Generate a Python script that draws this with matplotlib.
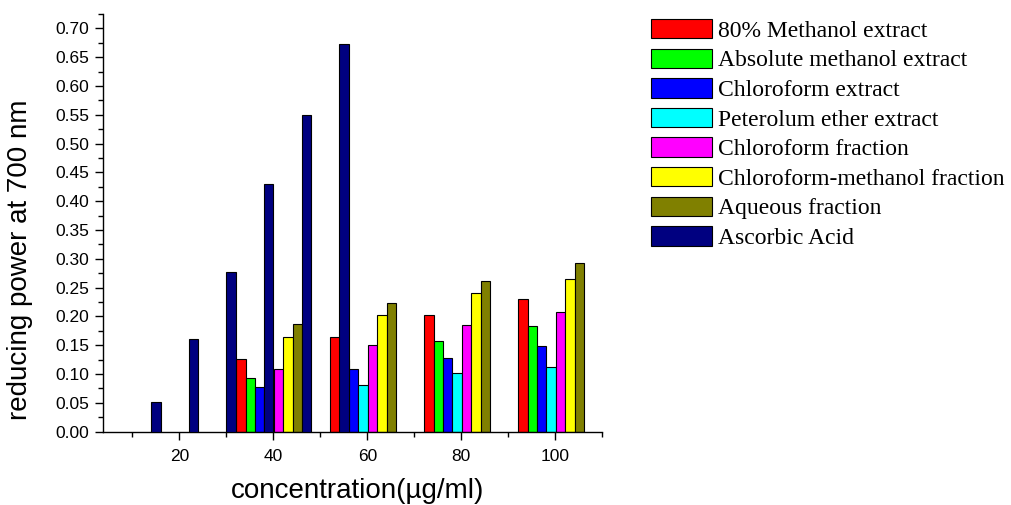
import matplotlib
matplotlib.use("Agg")
import matplotlib.pyplot as plt
import numpy as np
from matplotlib.ticker import MultipleLocator, FormatStrFormatter

# ---- data ----
group_conc = [40, 60, 80, 100]
series_names = ["80% Methanol extract", "Absolute methanol extract", "Chloroform extract",
                "Peterolum ether extract", "Chloroform fraction",
                "Chloroform-methanol fraction", "Aqueous fraction"]
methanol80 = [0.127, 0.164, 0.203, 0.230]
abs_methanol = [0.094, 0.125, 0.157, 0.183]
chloroform_ext = [0.078, 0.109, 0.128, 0.148]
pet_ether = [0.065, 0.081, 0.101, 0.112]
chloroform_frac = [0.108, 0.151, 0.185, 0.207]
chl_meth_frac = [0.164, 0.203, 0.241, 0.265]
aqueous = [0.187, 0.224, 0.261, 0.292]

ascorbic_name = "Ascorbic Acid"
ascorbic_conc = [15, 23, 31, 39, 47, 55]
ascorbic = [0.052, 0.161, 0.277, 0.430, 0.549, 0.672]

colors = ["#FF0000", "#00FF00", "#0000FF", "#00FFFF", "#FF00FF", "#FFFF00", "#808000"]
ascorbic_color = "#000080"

# ---- figure ----
W, H = 1011, 505
fig = plt.figure(figsize=(W / 100, H / 100), dpi=100)
ax_left, ax_right = 103.3 / W, 602.3 / W
ax_bottom = 1 - 431.7 / H
ax_top = 1 - 13.9 / H
ax = fig.add_axes([ax_left, ax_bottom, ax_right - ax_left, ax_top - ax_bottom])

all_series = [methanol80, abs_methanol, chloroform_ext, pet_ether,
              chloroform_frac, chl_meth_frac, aqueous]
w = 2.0
x = np.array(group_conc, dtype=float)
handles = []
for i, (vals, c, name) in enumerate(zip(all_series, colors, series_names)):
    b = ax.bar(x + (i - 3.5) * w + 0.1, vals, width=w, color=c, edgecolor="black",
               linewidth=0.8, label=name, zorder=2)
    handles.append(b)
b = ax.bar(ascorbic_conc, ascorbic, width=w, color=ascorbic_color, edgecolor="black",
           linewidth=0.8, label=ascorbic_name, zorder=3)
handles.append(b)

ax.set_xlim(3.8, 110)
ax.set_ylim(0, 0.725)
ax.xaxis.set_major_locator(MultipleLocator(20))
ax.xaxis.set_minor_locator(MultipleLocator(10))
ax.yaxis.set_major_locator(MultipleLocator(0.05))
ax.yaxis.set_minor_locator(MultipleLocator(0.025))
ax.yaxis.set_major_formatter(FormatStrFormatter("%.2f"))
ax.set_yticks(np.arange(0, 0.701, 0.05))

for s in ["top", "right"]:
    ax.spines[s].set_visible(False)
for s in ["left", "bottom"]:
    ax.spines[s].set_linewidth(1.0)

tick_font = "Liberation Sans"
ax.tick_params(axis="both", which="major", direction="out", length=6, width=1.0,
               labelsize=12.5, pad=4)
ax.tick_params(axis="x", which="major", pad=6.5)
ax.tick_params(axis="both", which="minor", direction="out", length=3.5, width=1.0)
for lbl in ax.get_xticklabels() + ax.get_yticklabels():
    lbl.set_fontfamily(tick_font)

ax.set_xlabel("concentration(\u00b5g/ml)", fontsize=20, fontfamily=tick_font)
ax.set_ylabel("reducing power at 700 nm", fontsize=20, fontfamily=tick_font)
ax.xaxis.set_label_coords(0.51, -0.112)
ax.yaxis.set_label_coords(-0.141, 0.411)

leg = fig.legend(handles=handles, loc="upper left",
                 bbox_to_anchor=(651 / W, 1 - 19 / H), bbox_transform=fig.transFigure,
                 frameon=False, borderpad=0, borderaxespad=0,
                 prop={"family": "Liberation Serif", "size": 17},
                 handlelength=2.58, handleheight=0.89, handletextpad=0.25,
                 labelspacing=0.285)

fig.savefig("out.png", dpi=100)
